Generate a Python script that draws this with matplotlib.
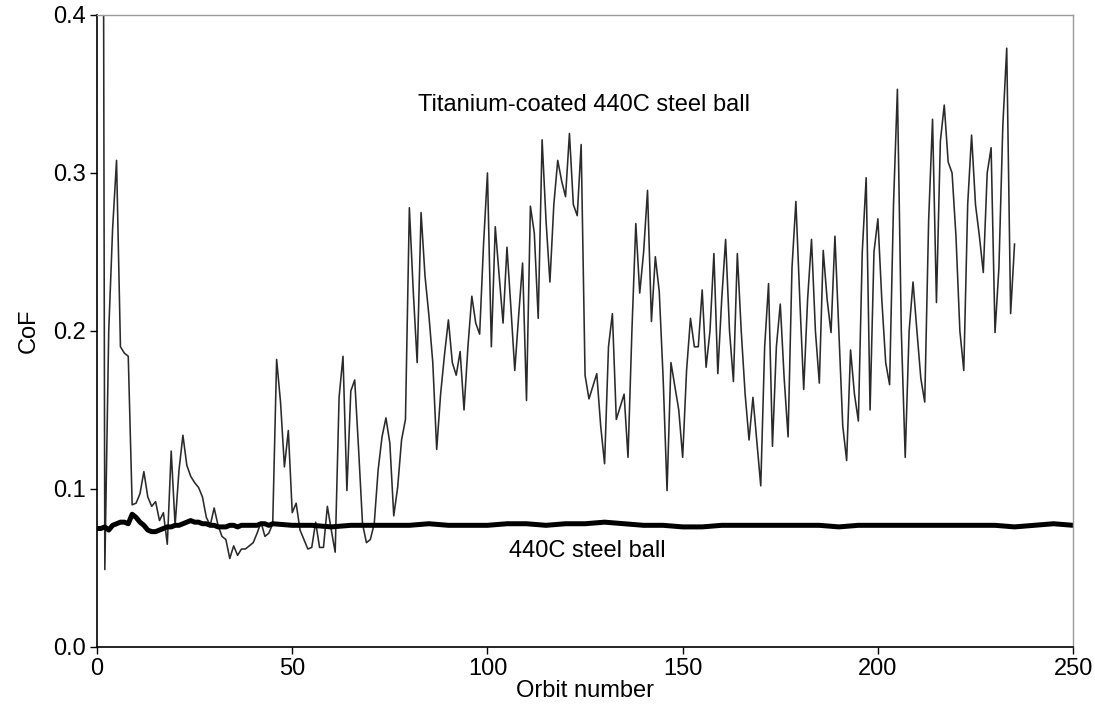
import numpy as np
import matplotlib
matplotlib.use("Agg")
import matplotlib.pyplot as plt

plt.rcParams['font.family'] = ['Liberation Sans', 'DejaVu Sans']

# CoF of the titanium-coated ball, one value per orbit starting at orbit 1
titanium_cof = [
    1.2, 0.049, 0.20, 0.265, 0.308, 0.19, 0.186, 0.184, 0.09, 0.091,
    0.097, 0.111, 0.095, 0.089, 0.092, 0.080, 0.085, 0.065, 0.124, 0.077,
    0.112, 0.134, 0.115, 0.108, 0.104, 0.101, 0.095, 0.082, 0.077, 0.088,
    0.077, 0.070, 0.068, 0.056, 0.064, 0.058, 0.062, 0.062, 0.064, 0.066,
    0.072, 0.079, 0.070, 0.072, 0.078, 0.182, 0.155, 0.114, 0.137, 0.085,
    0.091, 0.074, 0.068, 0.062, 0.063, 0.079, 0.063, 0.063, 0.089, 0.074,
    0.060, 0.158, 0.184, 0.099, 0.162, 0.169, 0.125, 0.078, 0.066, 0.068,
    0.078, 0.112, 0.133, 0.145, 0.129, 0.083, 0.101, 0.131, 0.144, 0.278,
    0.225, 0.180, 0.275, 0.235, 0.210, 0.180, 0.125, 0.160, 0.185, 0.207,
    0.180, 0.172, 0.187, 0.150, 0.190, 0.222, 0.205, 0.198, 0.255, 0.300,
    0.190, 0.266, 0.235, 0.205, 0.253, 0.215, 0.175, 0.210, 0.243, 0.156,
    0.279, 0.262, 0.208, 0.321, 0.270, 0.231, 0.280, 0.308, 0.295, 0.285,
    0.325, 0.280, 0.273, 0.318, 0.172, 0.157, 0.165, 0.173, 0.140, 0.116,
    0.190, 0.211, 0.144, 0.152, 0.160, 0.120, 0.200, 0.268, 0.224, 0.250,
    0.289, 0.206, 0.247, 0.225, 0.170, 0.099, 0.180, 0.165, 0.150, 0.120,
    0.175, 0.208, 0.190, 0.190, 0.226, 0.177, 0.200, 0.249, 0.173, 0.220,
    0.258, 0.200, 0.168, 0.249, 0.200, 0.160, 0.131, 0.158, 0.130, 0.102,
    0.190, 0.230, 0.127, 0.190, 0.217, 0.170, 0.133, 0.240, 0.282, 0.220,
    0.163, 0.220, 0.258, 0.200, 0.167, 0.251, 0.220, 0.199, 0.260, 0.200,
    0.140, 0.118, 0.188, 0.160, 0.143, 0.250, 0.297, 0.150, 0.250, 0.271,
    0.220, 0.180, 0.166, 0.280, 0.353, 0.200, 0.120, 0.200, 0.231, 0.200,
    0.170, 0.155, 0.270, 0.334, 0.218, 0.320, 0.343, 0.307, 0.300, 0.260,
    0.200, 0.175, 0.280, 0.324, 0.280, 0.260, 0.237, 0.300, 0.316, 0.199,
    0.240, 0.330, 0.379, 0.211, 0.255,
]
titanium_orbit = np.arange(1, len(titanium_cof) + 1)

# plain 440C ball: every orbit up to 45, then every 5 orbits
steel_orbit = list(range(0, 46)) + list(range(50, 251, 5))
steel_cof = [
    0.075, 0.075, 0.076, 0.074, 0.077, 0.078, 0.079, 0.079, 0.078, 0.084,
    0.082, 0.079, 0.077, 0.074, 0.073, 0.073, 0.074, 0.075, 0.076, 0.076,
    0.077, 0.077, 0.078, 0.079, 0.080, 0.079, 0.079, 0.078, 0.078, 0.077,
    0.077, 0.076, 0.076, 0.076, 0.077, 0.077, 0.076, 0.077, 0.077, 0.077,
    0.077, 0.077, 0.078, 0.078, 0.077, 0.078,
    # 50 .. 250
    0.077, 0.077, 0.076, 0.077, 0.077, 0.077, 0.077, 0.078, 0.077, 0.077,
    0.077, 0.078, 0.078, 0.077, 0.078, 0.078, 0.079, 0.078, 0.077, 0.077,
    0.076, 0.076, 0.077, 0.077, 0.077, 0.077, 0.077, 0.077, 0.076, 0.077,
    0.077, 0.077, 0.077, 0.077, 0.077, 0.077, 0.077, 0.076, 0.077, 0.078,
    0.077,
]

x_ticks = [0, 50, 100, 150, 200, 250]
y_ticks = [0.0, 0.1, 0.2, 0.3, 0.4]

fig = plt.figure(figsize=(10.95, 7.04), dpi=100)
ax = fig.add_axes([0.0886, 0.081, 0.8914, 0.8977])

ax.plot(titanium_orbit, titanium_cof, color='#2a2a2a', lw=1.15)
ax.plot(steel_orbit, steel_cof, color='black', lw=3.6, solid_capstyle='butt')

ax.set_xlim(0, 250)
ax.set_ylim(0, 0.4)
ax.set_xticks(x_ticks)
ax.set_yticks(y_ticks)
ax.set_yticklabels([f"{v:.1f}" for v in y_ticks])
ax.tick_params(direction='out', length=5, width=1, labelsize=17,
               colors='black', pad=3)

for side in ['top', 'right']:
    ax.spines[side].set_color('#9a9a9a')
    ax.spines[side].set_linewidth(1.0)
for side in ['left', 'bottom']:
    ax.spines[side].set_color('black')
    ax.spines[side].set_linewidth(1.2)

ax.set_xlabel('Orbit number', fontsize=17, labelpad=0)
ax.set_ylabel('CoF', fontsize=17, labelpad=10)

ax.text(124.7, 0.343, 'Titanium-coated 440C steel ball', fontsize=17,
        ha='center', va='center')
ax.text(125.5, 0.061, '440C steel ball', fontsize=17, ha='center', va='center')

fig.savefig('out.png', dpi=100)
